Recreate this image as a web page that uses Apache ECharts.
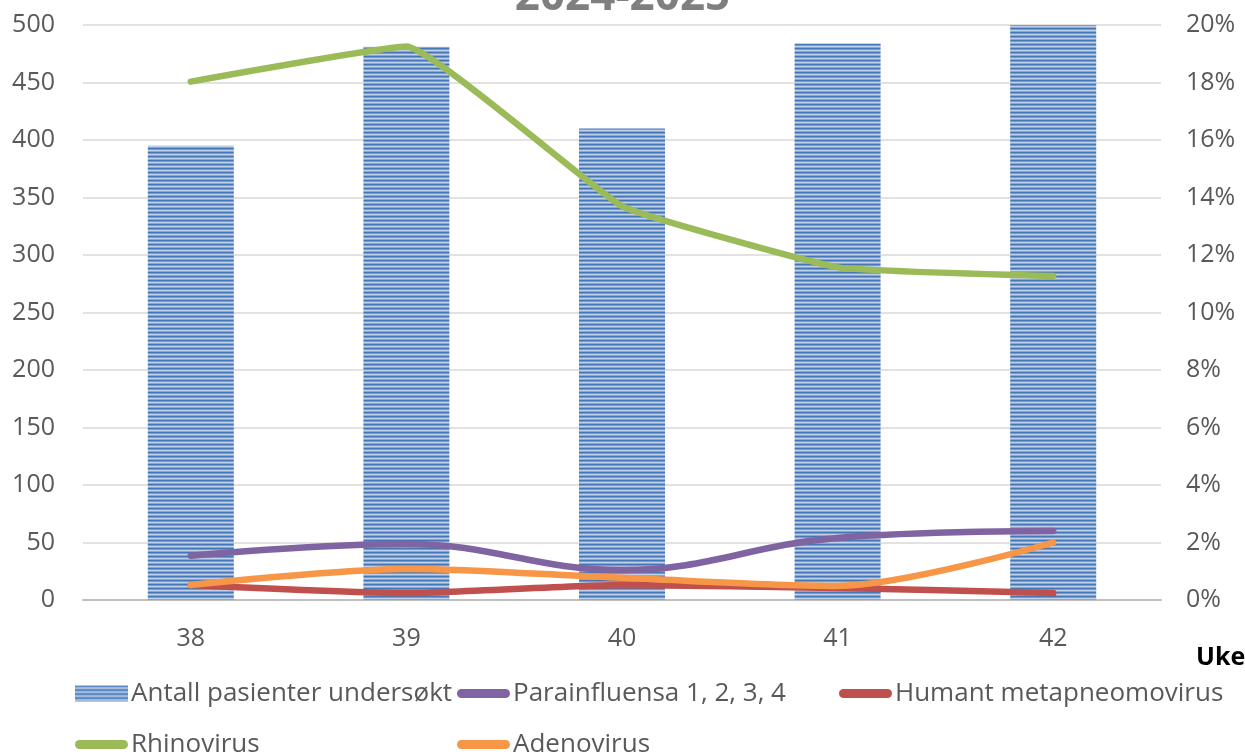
<!DOCTYPE html>
<html>
<head>
<meta charset="utf-8">
<script src="https://cdn.jsdelivr.net/npm/echarts@6/dist/echarts.min.js"></script>
<style>
html,body{margin:0;padding:0;background:#fff;}
#chart{width:1245px;height:754px;}
</style>
</head>
<body>
<div id="chart"></div>
<script>
const categories = ['38', '39', '40', '41', '42'];
const antallPasienter = [395, 481, 410, 484, 500];
const parainfluensa = [1.54, 1.95, 1.04, 2.16, 2.40];
const metapneumovirus = [0.52, 0.24, 0.52, 0.42, 0.24];
const rhinovirus = [18.03, 19.25, 13.7, 11.57, 11.27];
const adenovirus = [0.52, 1.08, 0.77, 0.49, 2.0];
const leftTicks = [0, 50, 100, 150, 200, 250, 300, 350, 400, 450, 500];
const rightTicks = [0, 2, 4, 6, 8, 10, 12, 14, 16, 18, 20];

// striped pattern for bars
const pc = document.createElement('canvas');
pc.width = 4; pc.height = 4;
const ctx = pc.getContext('2d');
const rows = ['#4577b6', '#759cd0', '#bfd1ea', '#86a8d6'];
rows.forEach((c, i) => { ctx.fillStyle = c; ctx.fillRect(0, i, 4, 1); });

const FONT = 'Open Sans';
const LINE_ICON = 'path://M4.5,0 H48.5 A4.5,4.5 0 0 1 48.5,9 H4.5 A4.5,4.5 0 0 1 4.5,0 Z';
const chart = echarts.init(document.getElementById('chart'));
const lineCommon = { type: 'line', yAxisIndex: 1, symbol: 'none', z: 5 };

chart.setOption({
  animation: false,
  title: {
    text: '2024-2025', left: 'center', top: -25, padding: 0,
    textStyle: { fontFamily: FONT, fontSize: 44, fontWeight: 'bold', color: '#7f7f7f' }
  },
  grid: { left: 83, right: 84, top: 25, bottom: 154, containLabel: false },
  legend: {
    left: 75, top: 668, padding: 0,
    itemWidth: 53, itemHeight: 16, itemGap: 0, symbolKeepAspect: true,
    textStyle: { fontFamily: FONT, fontSize: 26, color: '#595959', width: 326, lineHeight: 51, padding: [0, 0, 0, -2] },
    data: [
      { name: 'Antall pasienter undersøkt', icon: 'rect', itemStyle: { color: { image: pc, repeat: 'repeat' } } },
      { name: 'Parainfluensa 1, 2, 3, 4', icon: LINE_ICON },
      { name: 'Humant metapneomovirus', icon: LINE_ICON },
      { name: 'Rhinovirus', icon: LINE_ICON },
      { name: 'Adenovirus', icon: LINE_ICON }
    ]
  },
  graphic: [{
    type: 'text', left: 1196, top: 645,
    style: { text: 'Uke', fontFamily: FONT, fontSize: 25, fontWeight: 'bold', fill: '#000' }
  }],
  xAxis: {
    type: 'category', data: categories,
    axisTick: { show: false },
    axisLine: { lineStyle: { color: '#bfbfbf', width: 2 } },
    axisLabel: { fontFamily: FONT, fontSize: 25, color: '#595959', margin: 26 }
  },
  yAxis: [{
    type: 'value', min: leftTicks[0], max: leftTicks[leftTicks.length - 1], interval: 50,
    axisLine: { show: false }, axisTick: { show: false },
    splitLine: { lineStyle: { color: '#d9d9d9', width: 1.5 } },
    axisLabel: { fontFamily: FONT, fontSize: 25, color: '#595959', margin: 28 }
  }, {
    type: 'value', min: rightTicks[0], max: rightTicks[rightTicks.length - 1], interval: 2,
    axisLine: { show: false }, axisTick: { show: false }, splitLine: { show: false },
    axisLabel: { fontFamily: FONT, fontSize: 25, color: '#595959', margin: 25, formatter: '{value}%' }
  }],
  series: [{
    name: 'Antall pasienter undersøkt', type: 'bar', data: antallPasienter,
    barWidth: 86, z: 2,
    itemStyle: { color: { image: pc, repeat: 'repeat' } }
  }, Object.assign({}, lineCommon, {
    name: 'Parainfluensa 1, 2, 3, 4', data: parainfluensa, smooth: 0.4,
    itemStyle: { color: '#8064a2' }, lineStyle: { color: '#8064a2', width: 6.5, cap: 'round' }
  }), Object.assign({}, lineCommon, {
    name: 'Humant metapneomovirus', data: metapneumovirus, smooth: 0.2,
    itemStyle: { color: '#c0504d' }, lineStyle: { color: '#c0504d', width: 6.5, cap: 'round' }
  }), Object.assign({}, lineCommon, {
    name: 'Rhinovirus', data: rhinovirus, smooth: 0.1,
    itemStyle: { color: '#9bbb59' }, lineStyle: { color: '#9bbb59', width: 6.5, cap: 'round' }
  }), Object.assign({}, lineCommon, {
    name: 'Adenovirus', data: adenovirus, smooth: 0.3,
    itemStyle: { color: '#f79646' }, lineStyle: { color: '#f79646', width: 6.5, cap: 'round' }
  })]
});
</script>
</body>
</html>
